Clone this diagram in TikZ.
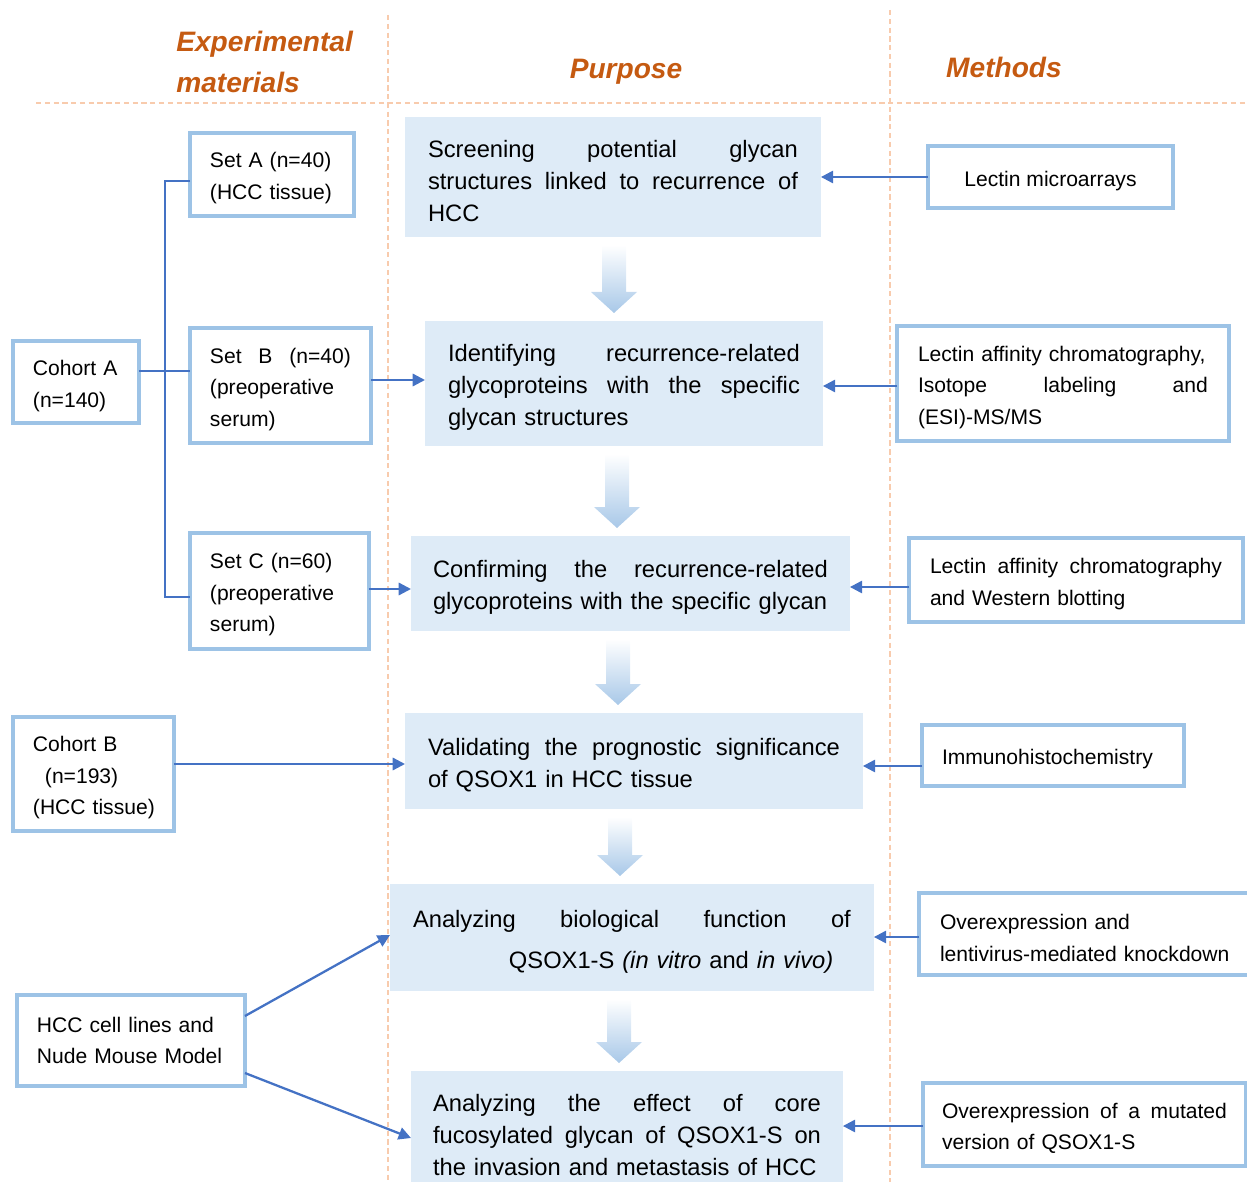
\documentclass[tikz,border=0pt]{standalone}
\usepackage{fontspec}
\setmainfont{Liberation Sans}
\usetikzlibrary{arrows.meta,calc}
\hyphenpenalty=10000
\exhyphenpenalty=10000

\definecolor{hdrorange}{RGB}{197,90,17}
\definecolor{boxline}{RGB}{157,195,230}
\definecolor{purpfill}{RGB}{222,235,247}
\definecolor{connblue}{RGB}{68,114,196}
\definecolor{flowblue}{RGB}{168,200,232}
\definecolor{sepline}{RGB}{248,203,173}

\newcommand{\boxlift}{13pt}
\tikzset{
  hdr/.style={font=\fontsize{16}{23}\selectfont\bfseries\itshape, text=hdrorange, inner sep=0pt},
  framebox/.style={draw=boxline, line width=2.2pt, fill=white, anchor=north west,
    outer sep=0pt, inner sep=0pt, align=left, font=\fontsize{12}{18}\selectfont,
    execute at begin node={\rule{0pt}{\boxlift}}},
  nolift/.code={\def\boxlift{0pt}},
  purpbox/.style={fill=purpfill, anchor=north west, outer sep=0pt, inner sep=0pt,
    align=left, font=\fontsize{13.5}{18.2}\selectfont,
    execute at begin node={\rule{0pt}{14.5pt}}},
  conn/.style={draw=connblue, line width=1.3pt},
  arr/.style={conn, -{Triangle[length=7pt,width=7pt]}},
  flowarrow/.style={top color=white, bottom color=flowblue, draw=none},
  sep/.style={draw=sepline, line width=0.8pt, dash pattern=on 3pt off 2pt},
}

% big shaded arrow between two purpose boxes: from, to, x position
\newcommand{\flowdown}[3]{%
  \shade[flowarrow] let \p1=(#3,0 |- #1.south), \p2=(#3,0 |- #2.north) in
    ([shift={(-12,8)}]\p1) -- ([shift={(12,8)}]\p1) -- ([shift={(12,-29)}]\p2)
    -- ([shift={(23,-29)}]\p2) -- ([shift={(0,-8)}]\p2) -- ([shift={(-23,-29)}]\p2)
    -- ([shift={(-12,-29)}]\p2) -- cycle;}

\begin{document}
\begin{tikzpicture}[x=0.02cm, y=-0.02cm]
\useasboundingbox (0,0) rectangle (1247,1182);
\clip (0,0) rectangle (1247,1182);
% column separators
\draw[sep] (36,103) -- (1247,103);
\draw[sep] (388,15) -- (388,1182);
\draw[sep] (890,10) -- (890,1182);
% headers
\node[hdr, align=left, anchor=west] (hmat) at (176,62) {Experimental\\materials};
\node[hdr] (hpurp) at (626,72) {Purpose};
\node[hdr] (hmeth) at (1004,67) {Methods};
% experimental materials
\node[framebox, minimum width=3.28cm, minimum height=1.66cm, text width=2.48cm] (setA) at (190,133) {Set A (n=40)\\(HCC~tissue)};
\node[framebox, minimum width=3.62cm, minimum height=2.3cm, text width=2.82cm] (setB) at (190,328) {Set\hfill B\hfill (n=40)\\(preoperative\\serum)};
\node[framebox, minimum width=3.58cm, minimum height=2.32cm, text width=2.78cm] (setC) at (190,533) {Set C (n=60)\\(preoperative\\serum)};
\node[framebox, minimum width=2.52cm, minimum height=1.64cm, text width=1.72cm] (cohortA) at (13,341) {Cohort~A\\(n=140)};
\node[framebox, minimum width=3.22cm, minimum height=2.28cm, text width=2.42cm] (cohortB) at (13,717) {Cohort~B\\\hspace*{0.24cm}(n=193)\\(HCC~tissue)};
\node[framebox, nolift, minimum width=4.56cm, minimum height=1.82cm, text width=3.76cm] (cells) at (17,995) {HCC cell lines and\\Nude~Mouse~Model};
% purpose
\node[purpbox, minimum width=8.32cm, minimum height=2.4cm, text width=7.4cm] (screen) at (405,117) {Screening\hfill potential\hfill glycan\\structures\hfill linked\hfill to\hfill recurrence\hfill of\\HCC};
\node[purpbox, minimum width=7.96cm, minimum height=2.5cm, text width=7.04cm] (identify) at (425,321) {Identifying\hfill recurrence-related\\glycoproteins\hfill with\hfill the\hfill specific\\glycan structures};
\node[purpbox, minimum width=8.78cm, minimum height=1.9cm, text width=7.9cm] (confirm) at (411,536) {Confirming\hfill the\hfill recurrence-related\\glycoproteins~with~the~specific~glycan};
\node[purpbox, minimum width=9.16cm, minimum height=1.92cm, text width=8.24cm] (validate) at (405,713) {Validating\hfill the\hfill prognostic\hfill significance\\of QSOX1 in HCC tissue};
\node[purpbox, minimum width=9.68cm, minimum height=2.14cm, text width=8.76cm] (function) at (390,884) {Analyzing\hfill biological\hfill function\hfill of\\[5pt]\hspace*{1.92cm}QSOX1-S \textit{(in vitro} and \textit{in vivo)}};
\node[purpbox, minimum width=8.64cm, minimum height=2.38cm, text width=7.76cm] (effect) at (411,1071) {Analyzing\hfill the\hfill effect\hfill of\hfill core\\fucosylated\hfill glycan\hfill of\hfill QSOX1-S\hfill on\\the invasion and metastasis of HCC};
% methods
\node[framebox, align=center, minimum width=4.9cm, minimum height=1.24cm] (microarray) at (928,146) {Lectin microarrays};
\node[framebox, minimum width=6.64cm, minimum height=2.3cm, text width=5.8cm] (lcms) at (897,326) {Lectin~affinity~chromatography,\\Isotope\hfill labeling\hfill and\\(ESI)-MS/MS};
\node[framebox, minimum width=6.68cm, minimum height=1.68cm, text width=5.84cm] (western) at (909,538) {Lectin\hfill affinity\hfill chromatography\\and Western blotting};
\node[framebox, minimum width=5.24cm, minimum height=1.22cm, text width=4.44cm] (ihc) at (922,725) {Immunohistochemistry};
\node[framebox, minimum width=6.74cm, minimum height=1.64cm, text width=5.9cm] (overexp) at (919,893) {Overexpression and\\lentivirus-mediated~knockdown};
\node[framebox, minimum width=6.46cm, minimum height=1.66cm, text width=5.7cm] (mutant) at (923,1083) {Overexpression\hfill of\hfill a\hfill mutated\\version of QSOX1-S};
% cohort A bracket
\coordinate (brk) at (165,371);
\draw[conn] (setA.west |- 0,181) -| (brk) |- (setC.west |- 0,597);
\draw[conn] (cohortA.east |- brk) -- (setB.west |- brk);
% materials to purpose
\draw[arr] (setB.east |- 0,380) -- (identify.west |- 0,380);
\draw[arr] (setC.east |- 0,589) -- (confirm.west |- 0,589);
\draw[arr] (cohortB.east |- 0,764) -- (validate.west |- 0,764);
\draw[arr] (cells.east |- 0,1016) -- (function.west |- 0,935);
\draw[arr] (cells.east |- 0,1073) -- (effect.west |- 0,1138);
% methods to purpose
\draw[arr] (microarray.west) -- (microarray.west -| screen.east);
\draw[arr] (lcms.west |- 0,386) -- (identify.east |- 0,386);
\draw[arr] (western.west |- 0,587) -- (confirm.east |- 0,587);
\draw[arr] (ihc.west |- 0,766) -- (validate.east |- 0,766);
\draw[arr] (overexp.west |- 0,937) -- (function.east |- 0,937);
\draw[arr] (mutant.west |- 0,1126) -- (effect.east |- 0,1126);
% flow between purposes
\flowdown{screen}{identify}{614}
\flowdown{identify}{confirm}{617}
\flowdown{confirm}{validate}{618}
\flowdown{validate}{function}{620}
\flowdown{function}{effect}{619}
\end{tikzpicture}
\end{document}
